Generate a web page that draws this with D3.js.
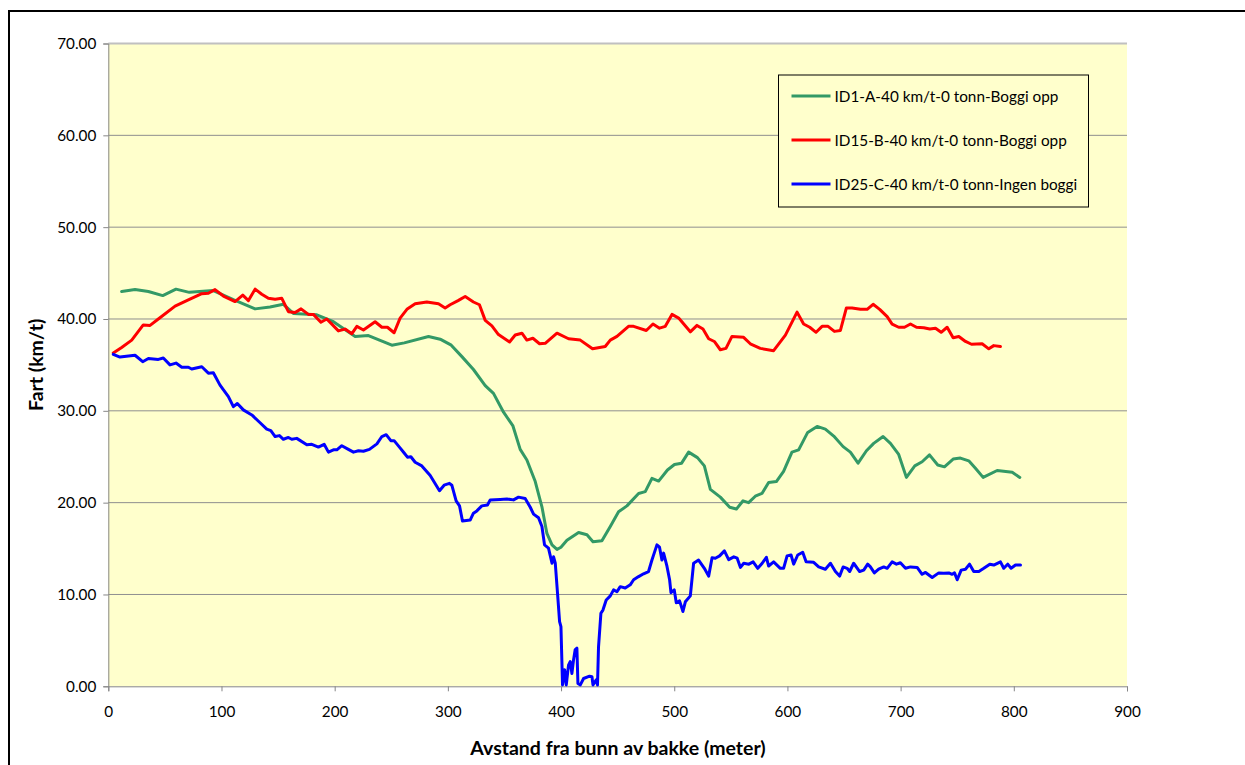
<!DOCTYPE html>
<html>
<head>
<meta charset="utf-8">
<script src="https://cdn.jsdelivr.net/npm/d3@7"></script>
<style>
  html, body { margin: 0; padding: 0; background: #fff; }
  #chart { width: 1245px; height: 765px; }
</style>
</head>
<body>
<div id="chart"></div>
<script>
(function() {
  var FONT = 'Lato, "Open Sans", sans-serif';

  // Series: [distance (m), speed (km/t)]
  var seriesNames = ['ID1-A-40 km/t-0 tonn-Boggi opp', 'ID15-B-40 km/t-0 tonn-Boggi opp', 'ID25-C-40 km/t-0 tonn-Ingen boggi'];
  var seriesColors = ['#339966', '#ff0000', '#0000ff'];

  var greenData = [[11.8,43.0],[23.6,43.2],[35.4,43.0],[48.1,42.55],[59.8,43.25],[71.6,42.9],[92.8,43.1],[110.5,42.1],[129.7,41.1],[142.9,41.3],[154.7,41.6],[163.5,40.6],[184.2,40.45],[198.9,39.7],[218.1,38.1],[229.8,38.2],[250.5,37.15],[261.5,37.4],[282.9,38.1],[293.2,37.8],[303,37.15],[312.4,35.9],[322.6,34.5],[333,32.75],[340.3,31.9],[349.2,29.85],[357.5,28.35],[363.9,25.8],[369.8,24.65],[377.2,22.3],[383.1,19.55],[387.5,16.65],[392,15.4],[396.4,14.9],[399.9,15.15],[405.2,15.9],[415.5,16.75],[422.9,16.5],[428.2,15.75],[436.1,15.85],[443.5,17.4],[450.8,19.0],[458.2,19.65],[468.5,21.0],[474.4,21.2],[480.3,22.65],[486.2,22.35],[494,23.55],[500.2,24.15],[506.5,24.3],[512.7,25.5],[520.5,24.9],[526.6,24.0],[531.9,21.45],[540.7,20.6],[549,19.5],[554.9,19.3],[560.8,20.2],[565.7,20.0],[571.6,20.7],[577.5,21.0],[583.4,22.2],[590.2,22.3],[596.6,23.4],[604,25.5],[609.9,25.75],[617.9,27.65],[626.2,28.3],[633.5,28.0],[640.9,27.25],[649.2,26.1],[655.6,25.5],[662.4,24.3],[669.8,25.65],[676.2,26.45],[684.5,27.2],[691,26.45],[698.3,25.25],[705.1,22.75],[712.5,24.0],[719,24.45],[725.5,25.2],[732.8,24.1],[738.7,23.9],[746.4,24.75],[752.8,24.85],[760.2,24.55],[766.1,23.75],[772.9,22.75],[785.3,23.5],[798.6,23.3],[805.3,22.75]];

  var redData = [[4.4,36.3],[11.8,36.9],[20.7,37.7],[30.9,39.35],[36.9,39.3],[44.2,40.0],[59,41.4],[69.3,42.0],[82.6,42.75],[88.4,42.8],[94.3,43.2],[101.7,42.5],[112,41.9],[118.8,42.6],[123.8,42.0],[129.7,43.25],[135.6,42.7],[141.4,42.25],[147.4,42.15],[153.3,42.25],[159.1,40.8],[165,40.7],[170.3,41.1],[176.8,40.5],[181.2,40.5],[187.8,39.65],[193,40.0],[203.3,38.7],[209.2,38.9],[215.2,38.4],[219.6,39.2],[225.4,38.8],[235.7,39.7],[241.7,39.1],[246.6,39.1],[252.5,38.5],[257.8,40.1],[263.8,41.05],[271.1,41.65],[281.4,41.85],[291.7,41.65],[297.6,41.2],[302,41.55],[309,42.0],[315.3,42.45],[322.6,41.85],[327.9,41.55],[333,39.85],[338.9,39.25],[344.7,38.3],[354.5,37.5],[359.5,38.25],[365.4,38.45],[369.8,37.7],[375.1,37.9],[381,37.3],[386,37.35],[396.4,38.45],[406.6,37.85],[417,37.7],[427.8,36.75],[439,37.0],[443.5,37.7],[449.4,38.1],[459.6,39.2],[464.1,39.2],[475.3,38.75],[481.2,39.45],[487,39.0],[492.1,39.2],[498,40.5],[503.9,40.1],[514.2,38.6],[520.1,39.3],[525.4,38.9],[530.4,37.85],[535.4,37.55],[540.7,36.65],[545.7,36.8],[551,38.1],[561.3,38.0],[567.2,37.3],[576,36.8],[587.8,36.55],[598.2,38.25],[608.5,40.75],[614.3,39.45],[619.7,39.1],[625.3,38.55],[630.6,39.2],[635.9,39.2],[641.5,38.65],[646.8,38.75],[652.1,41.2],[657.1,41.2],[664.5,41.05],[670.4,41.05],[675.7,41.6],[681.5,41.05],[688.1,40.25],[692.5,39.45],[698.3,39.1],[703.4,39.1],[708.7,39.45],[714,39.1],[720.4,39.05],[725.8,38.9],[730.8,39.0],[735.8,38.55],[741.1,39.1],[746.4,37.95],[751.4,38.1],[757.3,37.55],[762.6,37.25],[772,37.3],[777.9,36.75],[782.3,37.1],[788.2,37.0]];

  var blueData = [[4.4,36.15],[10.3,35.85],[23.6,36.05],[30.4,35.35],[35.4,35.7],[44.2,35.6],[48.6,35.75],[54.5,35.0],[59.8,35.2],[64.9,34.75],[70.7,34.75],[73.7,34.55],[82.6,34.8],[88.4,34.1],[92.8,34.15],[98.7,32.8],[106.1,31.55],[110.5,30.45],[114,30.8],[119.3,30.1],[126.8,29.55],[134.1,28.7],[140,28.0],[143.6,27.85],[147.4,27.2],[151.2,27.3],[154.7,26.9],[159.1,27.1],[162.1,26.9],[166.5,27.0],[175.4,26.3],[179.8,26.35],[185.6,26.05],[190.7,26.35],[194.5,25.5],[198.9,25.75],[201.9,25.75],[206.3,26.2],[212.1,25.8],[216.6,25.5],[221,25.65],[225.4,25.6],[230.7,25.8],[237.3,26.4],[241.7,27.2],[245.5,27.4],[249.6,26.75],[252.5,26.75],[257.2,26.05],[261.4,25.4],[264.3,24.95],[267.3,25.0],[271.1,24.4],[277,24.0],[284.4,22.95],[292.6,21.3],[296.7,21.9],[301.4,22.1],[303.5,21.9],[307.3,20.2],[310.3,19.65],[312.9,18.0],[319.7,18.1],[322.6,18.85],[325.6,19.1],[330,19.65],[335,19.75],[337.4,20.3],[346.2,20.35],[352.2,20.4],[358,20.3],[362.4,20.6],[368.3,20.45],[372.8,19.5],[375.7,18.75],[380.1,18.35],[383.1,17.4],[385.4,15.4],[388.9,15.05],[392,13.4],[393.4,14.1],[394.9,13.4],[396.9,10.1],[398.7,7.05],[399.9,6.5],[401.3,0.15],[403.1,1.8],[404.6,0.15],[406.6,2.3],[408.1,2.7],[409.6,1.4],[411,2.85],[412.5,4.0],[414,4.15],[414.9,0.3],[417,0.15],[419.9,0.85],[425.2,1.1],[427.3,1.05],[428.2,0.15],[431.1,0.7],[432.2,0.15],[433.1,4.3],[435.2,7.95],[437,8.3],[439.9,9.4],[443.5,9.85],[446.4,10.5],[449.4,10.3],[452.3,10.85],[456.7,10.7],[461.1,11.05],[464.1,11.6],[468.5,11.95],[472.9,12.25],[477.3,12.5],[480.3,13.75],[482.3,14.5],[484.7,15.4],[487,15.15],[489.1,13.75],[490.6,14.5],[493.6,13.05],[495.9,11.6],[497.1,10.2],[500,10.5],[501.8,9.1],[504.7,9.3],[507.7,8.15],[509.8,9.2],[514.2,9.85],[517.1,13.4],[521.5,13.75],[526.6,12.85],[530.4,12.0],[533.4,14.0],[536.3,13.95],[540.1,14.2],[544.3,14.75],[548.1,13.8],[552.6,14.1],[555.6,13.95],[558.5,12.95],[561.4,13.4],[565.9,13.3],[569.7,13.55],[573.8,12.85],[577.7,13.4],[581.4,14.05],[583.4,13.1],[587.8,13.55],[593.7,12.85],[596.6,12.85],[599.7,14.2],[603.2,14.3],[605.5,13.3],[609.1,14.3],[613.5,14.6],[616.5,13.55],[623.2,13.5],[627.6,13.0],[633.5,12.75],[638,13.4],[642.4,12.5],[646.1,12.0],[649.2,13.0],[652.7,12.85],[655,12.5],[658.5,13.4],[663.8,12.5],[667.4,12.65],[670.9,13.3],[673.3,13.0],[676.8,12.35],[680.6,12.75],[685.1,13.0],[688.1,12.85],[692.5,13.55],[696.3,13.3],[699.8,13.45],[704.3,12.85],[708.7,13.0],[714.6,12.95],[719,12.2],[722,12.4],[727.9,11.85],[733.7,12.35],[738.1,12.3],[742.6,12.35],[745.5,12.2],[747.6,12.35],[750,11.6],[753.5,12.65],[757.3,12.75],[760.9,13.3],[764.6,12.5],[769.1,12.5],[773.5,12.85],[778.8,13.3],[782.3,13.2],[788.2,13.55],[791.1,12.85],[794.6,13.3],[797.6,12.85],[801.5,13.2],[805.9,13.2]];

  var xTicks = [0, 100, 200, 300, 400, 500, 600, 700, 800, 900];
  var yTicks = [0, 10, 20, 30, 40, 50, 60, 70];

  var w = 1245, h = 765;
  var margin = { top: 43.5, right: 118, bottom: 78.7, left: 108.3 };
  var iw = w - margin.left - margin.right;
  var ih = h - margin.top - margin.bottom;

  var svg = d3.select('#chart').append('svg').attr('width', w).attr('height', h);

  // Outer chart frame
  svg.append('rect').attr('x', 9).attr('y', 11).attr('width', 1250).attr('height', 770)
    .attr('fill', '#fff').attr('stroke', '#000').attr('stroke-width', 2);

  var g = svg.append('g').attr('transform', 'translate(' + margin.left + ',' + margin.top + ')');

  var x = d3.scaleLinear().domain([0, 900]).range([0, iw]);
  var y = d3.scaleLinear().domain([0, 70]).range([ih, 0]);

  // Plot background
  g.append('rect').attr('width', iw).attr('height', ih).attr('fill', '#ffffcc');

  // Grid
  g.append('g').selectAll('line').data(yTicks.filter(function(d) { return d > 0; })).join('line')
    .attr('x1', 0).attr('x2', iw)
    .attr('y1', function(d) { return y(d); }).attr('y2', function(d) { return y(d); })
    .attr('stroke', function(d) { return d === 70 ? '#c0c0c0' : '#8f8f8f'; })
    .attr('stroke-width', function(d) { return d === 70 ? 2 : 1; });

  // Y axis
  g.append('g')
    .call(d3.axisLeft(y).tickValues(yTicks).tickSize(5).tickPadding(7).tickFormat(d3.format('.2f')))
    .call(function(a) { a.select('.domain').attr('stroke', '#868686'); })
    .call(function(a) { a.selectAll('.tick line').attr('stroke', '#868686'); })
    .call(function(a) { a.selectAll('.tick text').attr('fill', '#000').attr('font-size', '15.3px').attr('font-family', FONT); });

  // X axis
  g.append('g').attr('transform', 'translate(0,' + ih + ')')
    .call(d3.axisBottom(x).tickValues(xTicks).tickSize(5).tickPadding(15))
    .call(function(a) { a.select('.domain').attr('stroke', '#868686'); })
    .call(function(a) { a.selectAll('.tick line').attr('stroke', '#868686'); })
    .call(function(a) { a.selectAll('.tick text').attr('fill', '#000').attr('font-size', '15.3px').attr('font-family', FONT); });

  // Axis titles
  svg.append('text').attr('transform', 'rotate(-90)')
    .attr('x', -(margin.top + ih / 2)).attr('y', 43)
    .attr('text-anchor', 'middle').attr('font-weight', 'bold').attr('font-size', '19.5px').attr('font-family', FONT)
    .text('Fart (km/t)');
  svg.append('text').attr('x', 618).attr('y', 755)
    .attr('text-anchor', 'middle').attr('font-weight', 'bold').attr('font-size', '19.5px').attr('font-family', FONT)
    .text('Avstand fra bunn av bakke (meter)');

  // Lines
  var line = d3.line().x(function(d) { return x(d[0]); }).y(function(d) { return y(d[1]); });
  [greenData, redData, blueData].forEach(function(data, i) {
    g.append('path').datum(data).attr('d', line)
      .attr('fill', 'none').attr('stroke', seriesColors[i]).attr('stroke-width', 3)
      .attr('stroke-linejoin', 'round').attr('stroke-linecap', 'round');
  });

  // Legend
  var lg = svg.append('g').attr('transform', 'translate(778.5,75)');
  lg.append('rect').attr('width', 310).attr('height', 132)
    .attr('fill', '#ffffcc').attr('stroke', '#000').attr('stroke-width', 1);
  seriesNames.forEach(function(name, i) {
    var yy = 21 + i * 44;
    lg.append('line').attr('x1', 13).attr('x2', 52).attr('y1', yy).attr('y2', yy)
      .attr('stroke', seriesColors[i]).attr('stroke-width', 3);
    lg.append('text').attr('x', 56).attr('y', yy + 5.5)
      .attr('font-size', '15.3px').attr('font-family', FONT).attr('fill', '#000')
      .text(name);
  });
})();
</script>
</body>
</html>
